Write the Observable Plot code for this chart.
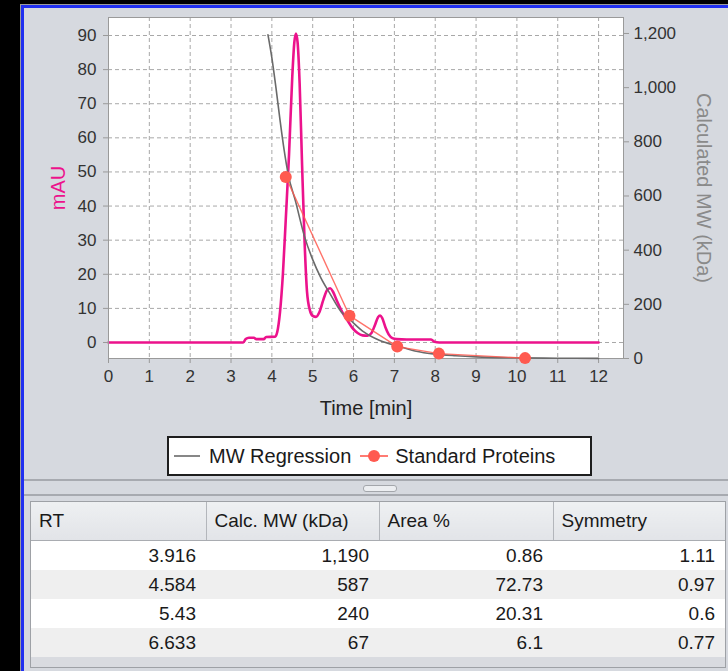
<!DOCTYPE html>
<html>
<head>
<meta charset="utf-8">
<script src="https://cdn.jsdelivr.net/npm/d3@7"></script>
<script src="https://cdn.jsdelivr.net/npm/@observablehq/plot@0.6"></script>
<style>
  html, body { margin: 0; padding: 0; }
  body { width: 728px; height: 671px; background: #000; position: relative; overflow: hidden;
         font-family: "Liberation Sans", Arial, sans-serif; }
  .abs { position: absolute; }
  #frameGray { left: 20px; top: 4px; right: 0; bottom: 0; background: #9c9c9c; }
  #frameBlue { left: 21px; top: 5px; right: 0; bottom: 0; background: #2130f0; }
  #panel { left: 24px; top: 8px; right: 0; bottom: 0; background: #d6d9df; }
  #chart { left: 0; top: 0; width: 728px; height: 430px; }
  #chart svg { position: absolute; left: 0; top: 0; }
  #legend { left: 167px; top: 436px; width: 421px; height: 36px; background: #fff; border: 2px solid #1e1e1e;
            display: flex; align-items: center; font-size: 20px; color: #1a1a1a; white-space: nowrap; }
  #legend .item { display: flex; align-items: center; }
  #legend svg { display: block; }
  .divline { left: 24px; right: 0; height: 2px; background: #a7aab0; }
  #handle { left: 363px; top: 485px; width: 32px; height: 5px; border-radius: 3px; background: #eceef1; border: 1px solid #a3a6ab; }
  #tableWrap { left: 30px; top: 501px; width: 694px; height: 165px; border: 1px solid #9ea1a6; background: #d9dbe0; overflow: hidden; }
  table { border-collapse: collapse; width: 694px; table-layout: fixed; font-size: 19px; color: #1a1a1a; }
  th { height: 38px; text-align: left; font-weight: normal; padding: 0 0 0 8px;
       background: linear-gradient(#eef0f2, #e2e4e8); border-right: 1px solid #b3b6bb; border-bottom: 1px solid #a9acb1; }
  th:last-child { border-right: none; }
  td { height: 29px; text-align: right; padding: 0 10px 0 0; }
  tr.odd td { background: #ffffff; }
  tr.even td { background: #efefef; }
</style>
</head>
<body>
<div id="frameGray" class="abs"></div>
<div id="frameBlue" class="abs"></div>
<div id="panel" class="abs"></div>
<div id="chart" class="abs"></div>
<div id="legend" class="abs"></div>
<div class="divline abs" style="top:479px"></div>
<div class="divline abs" style="top:494px"></div>
<div id="handle" class="abs"></div>
<div id="tableWrap" class="abs"></div>
<script>
// ---------- data ----------
const timeTicks = [0, 1, 2, 3, 4, 5, 6, 7, 8, 9, 10, 11, 12];
const mauTicks = [0, 10, 20, 30, 40, 50, 60, 70, 80, 90];
const mwTicks = [0, 200, 400, 600, 800, 1000, 1200];

// chromatogram (mAU vs time)
const traceTime = [0, 3.3, 3.36, 3.44, 3.56, 3.62, 3.8, 3.86, 4.08, 4.13, 4.2, 4.27, 4.34, 4.42, 4.5, 4.55, 4.59,
  4.63, 4.68, 4.74, 4.8, 4.86, 4.93, 5.0, 5.08, 5.16, 5.26, 5.36, 5.43, 5.5, 5.6, 5.72, 5.85, 5.97, 6.1, 6.22,
  6.34, 6.44, 6.52, 6.6, 6.65, 6.7, 6.78, 6.86, 6.95, 7.05, 7.3, 7.9, 7.98, 8.1, 12];
const traceMAU = [0, 0, 1.0, 1.4, 1.4, 1.0, 1.0, 1.6, 1.7, 3, 9, 20, 36, 55, 78, 88, 90.6,
  88, 76, 52, 30, 15, 9.5, 7.8, 7.5, 8.8, 12.5, 15.5, 15.9, 14.8, 12, 9, 6.5, 4.3, 2.8, 2.1,
  2.0, 2.8, 5, 7.4, 7.9, 7.2, 4.5, 2.4, 1.3, 1.0, 0.9, 0.9, 0.2, 0, 0];

// MW regression curve (kDa vs time)
const regTime = [3.905, 4.0, 4.1, 4.2, 4.3, 4.4, 4.58, 4.8, 5.0, 5.2, 5.43, 5.7, 5.9, 6.25, 6.63, 7.07, 7.5, 8.0, 8.5, 9.0, 10.0, 11.0, 12.0];
const regMW = [1195, 1110, 1000, 880, 770, 680, 580, 450, 365, 298, 238, 172, 145, 98, 67, 46, 28, 16, 10, 6, 2.5, 1, 0.4];

// standard proteins
const stdTime = [4.34, 5.9, 7.07, 8.09, 10.2];
const stdMW = [670, 158, 44, 18, 1.4];

// table
const tableHeaders = ["RT", "Calc. MW (kDa)", "Area %", "Symmetry"];
const colRT = ["3.916", "4.584", "5.43", "6.633"];
const colMW = ["1,190", "587", "240", "67"];
const colArea = ["0.86", "72.73", "20.31", "6.1"];
const colSym = ["1.11", "0.97", "0.6", "0.77"];

// ---------- styles ----------
const MAGENTA = "#ec128c";
const SALMON = "#ff5a50";
const REGGRAY = "#6a6a6a";

const trace = traceTime.map((t, i) => ({t, v: traceMAU[i]}));
const reg = regTime.map((t, i) => ({t, mw: regMW[i]}));
const std = stdTime.map((t, i) => ({t, mw: stdMW[i]}));

const common = {
  width: 728, height: 430,
  marginLeft: 108, marginRight: 105, marginTop: 17, marginBottom: 72,
  style: {background: "transparent", fontFamily: "'Liberation Sans', Arial, sans-serif", fontSize: "17px", color: "#333", overflow: "visible"}
};
const xDomain = [0, 12.61];

const plotA = Plot.plot({
  ...common,
  x: {domain: xDomain, axis: null},
  y: {domain: [-4.69, 95.28], axis: null},
  marks: [
    Plot.frame({fill: "white", stroke: null}),
    Plot.gridX(timeTicks.slice(1), {stroke: "#a8a8a8", strokeOpacity: 1, strokeDasharray: "4,3"}),
    Plot.gridY(mauTicks, {stroke: "#a8a8a8", strokeOpacity: 1, strokeDasharray: "4,3"}),
    Plot.line(trace, {x: "t", y: "v", stroke: MAGENTA, strokeWidth: 2.6, curve: "monotone-x"}),
    Plot.frame({stroke: "#9a9a9a"}),
    Plot.axisX(timeTicks, {anchor: "bottom", tickSize: 5, tickPadding: 6, stroke: "#9a9a9a", fill: "#333", label: null}),
    Plot.axisY(mauTicks, {anchor: "left", tickSize: 5, tickPadding: 7, stroke: "#9a9a9a", fill: "#333", label: null}),
    Plot.text(["Time [min]"], {frameAnchor: "bottom", dy: 50, textAnchor: "middle", lineAnchor: "middle", fontSize: 20, fill: "#222"}),
    Plot.text(["mAU"], {frameAnchor: "left", dx: -50, rotate: -90, textAnchor: "middle", lineAnchor: "middle", fontSize: 20, fill: MAGENTA})
  ]
});

const plotB = Plot.plot({
  ...common,
  x: {domain: xDomain, axis: null},
  y: {domain: [0, 1259], axis: null},
  marks: [
    Plot.line(reg, {x: "t", y: "mw", stroke: REGGRAY, strokeWidth: 1.6, curve: "monotone-x"}),
    Plot.line(std, {x: "t", y: "mw", stroke: SALMON, strokeWidth: 1.4, strokeOpacity: 0.85}),
    Plot.dot(std, {x: "t", y: "mw", r: 6, fill: SALMON, stroke: null}),
    Plot.axisY(mwTicks, {anchor: "right", tickSize: 5, tickPadding: 5, stroke: "#9a9a9a", fill: "#333", label: null, tickFormat: d3.format(",")}),
    Plot.text(["Calculated MW (kDa)"], {frameAnchor: "right", dx: 80, rotate: 90, textAnchor: "middle", lineAnchor: "middle", fontSize: 20, fill: "#8a8a8a"})
  ]
});

const chart = document.getElementById("chart");
chart.appendChild(plotA);
chart.appendChild(plotB);

// ---------- legend ----------
const legend = document.getElementById("legend");
legend.innerHTML =
  `<div class="item" style="margin-left:4px"><svg width="28" height="20"><line x1="1" x2="27" y1="10" y2="10" stroke="${REGGRAY}" stroke-width="1.6"/></svg>` +
  `<span style="margin-left:8px">MW Regression</span></div>` +
  `<div class="item" style="margin-left:9px"><svg width="28" height="20"><line x1="0" x2="28" y1="10" y2="10" stroke="${SALMON}" stroke-width="1.6"/><circle cx="14" cy="10" r="6" fill="${SALMON}"/></svg>` +
  `<span style="margin-left:7px">Standard Proteins</span></div>`;

// ---------- table ----------
const widths = [175, 173, 174, 172];
let html = `<table><colgroup>${widths.map(w => `<col style="width:${w}px">`).join("")}</colgroup><tr>` +
  tableHeaders.map(h => `<th>${h}</th>`).join("") + `</tr>`;
colRT.forEach((rt, i) => {
  html += `<tr class="${i % 2 === 0 ? "odd" : "even"}"><td>${rt}</td><td>${colMW[i]}</td><td>${colArea[i]}</td><td>${colSym[i]}</td></tr>`;
});
html += `</table>`;
document.getElementById("tableWrap").innerHTML = html;
</script>
</body>
</html>
